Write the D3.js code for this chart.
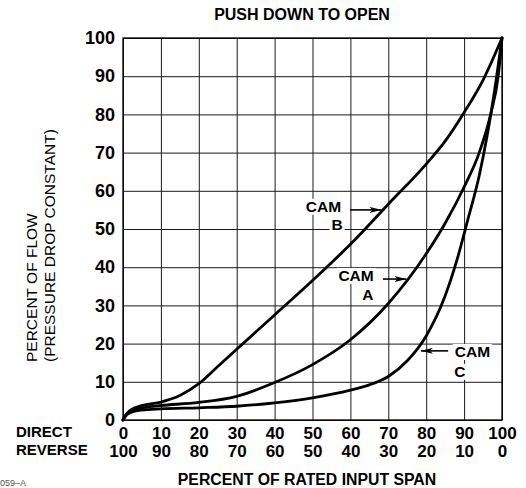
<!DOCTYPE html>
<html>
<head>
<meta charset="utf-8">
<script src="https://cdn.jsdelivr.net/npm/d3@7"></script>
<style>
  body { margin: 0; background: #fff; }
  svg { display: block; font-family: "Liberation Sans", Arial, Helvetica, sans-serif; }
  .grid line { stroke: #1a1a1a; stroke-width: 1; }
  .grid .domain { display: none; }
  .tick-lbl text { font-weight: bold; fill: #000; }
  .y-lbl text { font-size: 18px; }
  .x-lbl text { font-size: 17px; }
  .tick-lbl .domain, .tick-lbl line { display: none; }
  .cam-lbl { font-size: 15.5px; font-weight: bold; fill: #000; }
</style>
</head>
<body>
<svg id="chart"></svg>
<script>
// tick labels
const directTicks = [0, 10, 20, 30, 40, 50, 60, 70, 80, 90, 100];
const reverseTicks = [100, 90, 80, 70, 60, 50, 40, 30, 20, 10, 0];
const flowTicks = [0, 10, 20, 30, 40, 50, 60, 70, 80, 90, 100];

// curves: [percent of input span (direct), percent of flow]
const camA = [[0,0],[1,1.6],[2,2.4],[4,3.0],[7,3.5],[10,3.8],[20,4.6],[30,6.2],[40,9.8],[50,14.5],[60,21],[70,30.5],[80,43.5],[85,51.5],[90,61],[94,70],[97,80],[99,90],[100,100]];
const camB = [[0,0],[1,1.7],[2,2.6],[5,3.8],[10,4.7],[15,6.4],[20,9.5],[25,14],[30,18.5],[40,27.5],[50,36.5],[60,46],[70,56.5],[80,67],[85,73],[90,80.5],[95,89],[100,100]];
const camC = [[0,0],[1,1.4],[2,2.0],[5,2.6],[10,2.9],[20,3.2],[30,3.6],[40,4.5],[50,5.8],[60,7.8],[65,9.2],[70,11.4],[75,15.5],[80,22],[85,32.5],[88,41.5],[91,52.5],[94,64],[96,74],[98,86],[100,100]];

// annotation text and arrows, in data units
const camNotes = [
  {name: "B", cam: [52.9, 54.5], letter: [56.5, 49.7], tail: [59.9, 55.0], tip: [68.2, 55.0]},
  {name: "A", cam: [61.5, 36.4], letter: [64.6, 31.4], tail: [68.6, 36.9], tip: [74.8, 36.9]},
  {name: "C", cam: [92.2, 16.5], letter: [88.9, 11.3], tail: [85.8, 18.1], tip: [78.6, 18.1]}
];

const W = 526, H = 488;
const margin = {top: 38, right: 24, bottom: 68, left: 123};
const width = W - margin.left - margin.right;
const height = H - margin.top - margin.bottom;

const svg = d3.select("#chart").attr("width", W).attr("height", H);
const chart = svg.append("g").attr("transform", `translate(${margin.left},${margin.top})`);

const x = d3.scaleLinear().domain([0, 100]).range([0, width]);
const y = d3.scaleLinear().domain([0, 100]).range([height, 0]);

// grid
chart.append("g").attr("class", "grid")
  .attr("transform", `translate(0,${height})`)
  .call(d3.axisBottom(x).tickValues(directTicks).tickSize(-height).tickFormat(""));
chart.append("g").attr("class", "grid")
  .call(d3.axisLeft(y).tickValues(flowTicks).tickSize(-width).tickFormat(""));

chart.append("rect")
  .attr("width", width).attr("height", height)
  .attr("fill", "none").attr("stroke", "#000").attr("stroke-width", 1.3);

// y tick labels
chart.append("g").attr("class", "tick-lbl y-lbl")
  .call(d3.axisLeft(y).tickValues(flowTicks).tickSize(0).tickPadding(8));

// x tick labels, two rows
chart.append("g").attr("class", "tick-lbl x-lbl")
  .attr("transform", `translate(0,${height})`)
  .call(d3.axisBottom(x).tickValues(directTicks).tickSize(0).tickPadding(7));
chart.append("g").attr("class", "tick-lbl x-lbl")
  .attr("transform", `translate(0,${height + 18})`)
  .call(d3.axisBottom(x).tickValues(directTicks).tickSize(0).tickPadding(7)
    .tickFormat((d, i) => reverseTicks[i]));

svg.append("text").attr("x", 16).attr("y", 437)
  .attr("font-size", 15).attr("font-weight", "bold").text("DIRECT");
svg.append("text").attr("x", 16).attr("y", 455)
  .attr("font-size", 15).attr("font-weight", "bold").text("REVERSE");

// titles
svg.append("text").attr("x", 302).attr("y", 20)
  .attr("text-anchor", "middle").attr("font-size", 16).attr("font-weight", "bold")
  .text("PUSH DOWN TO OPEN");
svg.append("text").attr("x", 307).attr("y", 485)
  .attr("text-anchor", "middle").attr("font-size", 15.8).attr("font-weight", "bold")
  .text("PERCENT OF RATED INPUT SPAN");

const yTitle = svg.append("text")
  .attr("transform", "translate(37,362) rotate(-90)")
  .attr("font-size", 15.5);
yTitle.append("tspan").attr("x", 0).attr("y", 0).text("PERCENT OF FLOW");
yTitle.append("tspan").attr("x", 0).attr("y", 18).text("(PRESSURE DROP CONSTANT)");

svg.append("text").attr("x", 0).attr("y", 486)
  .attr("font-size", 9).attr("fill", "#555").text("059–A");

// curves
const line = d3.line()
  .x(d => x(d[0]))
  .y(d => y(d[1]))
  .curve(d3.curveMonotoneX);

[camA, camB, camC].forEach(c => {
  chart.append("path")
    .datum(c)
    .attr("d", line)
    .attr("fill", "none")
    .attr("stroke", "#000")
    .attr("stroke-width", 2.8)
    .attr("stroke-linecap", "round");
});

// annotations
chart.append("defs").append("marker")
  .attr("id", "head")
  .attr("viewBox", "0 0 12 6")
  .attr("refX", 12).attr("refY", 3)
  .attr("markerWidth", 12).attr("markerHeight", 6)
  .attr("markerUnits", "userSpaceOnUse")
  .attr("orient", "auto")
  .append("path").attr("d", "M0,0 L12,3 L0,6 L3,3 Z").attr("fill", "#000");

camNotes.forEach(n => {
  const g = chart.append("g");
  const t1 = g.append("text").attr("class", "cam-lbl")
    .attr("x", x(n.cam[0])).attr("y", y(n.cam[1]))
    .attr("text-anchor", "middle").text("CAM");
  const t2 = g.append("text").attr("class", "cam-lbl")
    .attr("x", x(n.letter[0])).attr("y", y(n.letter[1]))
    .attr("text-anchor", "middle").text(n.name);
  [t1, t2].forEach(t => {
    const b = t.node().getBBox();
    g.insert("rect", "text")
      .attr("x", b.x - 2).attr("y", b.y + 1)
      .attr("width", b.width + 4).attr("height", b.height - 1)
      .attr("fill", "#fff");
  });
  g.append("line")
    .attr("x1", x(n.tail[0])).attr("y1", y(n.tail[1]))
    .attr("x2", x(n.tip[0])).attr("y2", y(n.tip[1]))
    .attr("stroke", "#000").attr("stroke-width", 1.6)
    .attr("marker-end", "url(#head)");
});
</script>
</body>
</html>
